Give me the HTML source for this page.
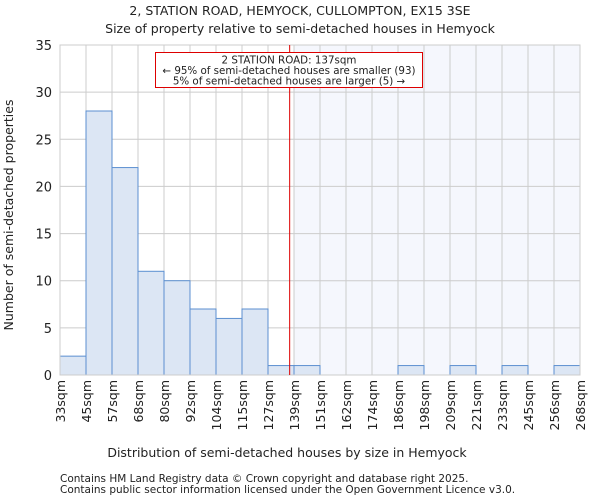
<!DOCTYPE html>
<html><head><meta charset="utf-8"><style>
body{margin:0;background:#fff;font-family:"DejaVu Sans","Liberation Sans",sans-serif;}
svg text{font-family:"DejaVu Sans","Liberation Sans",sans-serif;fill:#222;}
</style></head><body>
<svg id="chart" width="600" height="500">
<text x="300" y="15" text-anchor="middle" font-size="12.5">2, STATION ROAD, HEMYOCK, CULLOMPTON, EX15 3SE</text>
<text x="300" y="33" text-anchor="middle" font-size="12.5">Size of property relative to semi-detached houses in Hemyock</text>
<g id="plot"></g>
<text x="287" y="457" text-anchor="middle" font-size="12.5">Distribution of semi-detached houses by size in Hemyock</text>
<text transform="translate(13,215) rotate(-90)" text-anchor="middle" font-size="12.5">Number of semi-detached properties</text>
<text x="60" y="482" font-size="10.5">Contains HM Land Registry data © Crown copyright and database right 2025.</text>
<text x="60" y="493" font-size="10.5">Contains public sector information licensed under the Open Government Licence v3.0.</text>
</svg>
<script>
const binLabels=["33sqm","45sqm","57sqm","68sqm","80sqm","92sqm","104sqm","115sqm","127sqm","139sqm","151sqm","162sqm","174sqm","186sqm","198sqm","209sqm","221sqm","233sqm","245sqm","256sqm","268sqm"];
const binEdges=[33,45,57,68,80,92,104,115,127,139,151,162,174,186,198,209,221,233,245,256,268];
const counts=[2,28,22,11,10,7,6,7,1,1,0,0,0,1,0,1,0,1,0,1];
const yTicks=[0,5,10,15,20,25,30,35];
const subjectSize=137;
const NS="http://www.w3.org/2000/svg";
const L=60,R=580,T=45,B=375,yMax=35;
const nb=counts.length,bw=(R-L)/nb;
const xi=i=>L+i*bw;
function xv(v){for(let i=0;i<binEdges.length-1;i++){if(v<=binEdges[i+1])return xi(i)+bw*(v-binEdges[i])/(binEdges[i+1]-binEdges[i]);}return R;}
const y=v=>B-(v/yMax)*(B-T);
const g=document.getElementById('plot');
function mk(t,a){const e=document.createElementNS(NS,t);for(const k in a)e.setAttribute(k,a[k]);g.appendChild(e);return e;}
const sx=xv(subjectSize);
let sIdx=binEdges.findIndex(e=>e>=subjectSize);
let sh=mk('rect',{x:xi(sIdx),y:T,width:R-xi(sIdx),height:B-T,fill:'#f5f7fd'});


for(let i=0;i<=nb;i++){let l=mk('line',{x1:xi(i),x2:xi(i),y1:T,y2:B,stroke:'#cccccc','stroke-width':1});

}
yTicks.forEach(t=>{let l=mk('line',{x1:L,x2:R,y1:y(t),y2:y(t),stroke:'#cccccc','stroke-width':1});


let tx=mk('text',{x:L-8,y:y(t)+5,'text-anchor':'end','font-size':13});tx.textContent=t;

});
counts.forEach((c,i)=>{if(c<=0)return;let r=mk('rect',{x:xi(i),y:y(c),width:bw,height:B-y(c),fill:'#dce6f4',stroke:'#5b8fd0','stroke-width':1});

});
binLabels.forEach((s,i)=>{let tx=mk('text',{transform:`translate(${xi(i)+5},${B+5}) rotate(-90)`,'text-anchor':'end','font-size':12.5});tx.textContent=s;

});
let ax=mk('rect',{x:L,y:T,width:R-L,height:B-T,fill:'none',stroke:'#cccccc'});


let rl=mk('line',{x1:sx,x2:sx,y1:T,y2:B,stroke:'#dd0000','stroke-width':1});


let bx=mk('rect',{x:155.5,y:52.5,width:267,height:35,fill:'#fff',stroke:'#dd0000'});


["2 STATION ROAD: 137sqm","← 95% of semi-detached houses are smaller (93)","5% of semi-detached houses are larger (5) →"].forEach((s,i)=>{let tx=mk('text',{x:289,y:63.5+i*10.5,'text-anchor':'middle','font-size':10.3});tx.textContent=s;

});
</script>
</body></html>
